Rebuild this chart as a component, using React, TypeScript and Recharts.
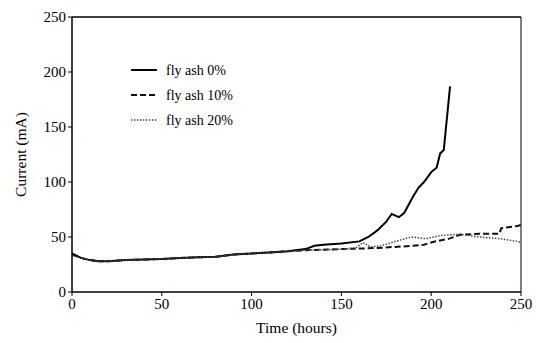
import { LineChart, Line, XAxis, YAxis, ReferenceLine } from "recharts";

// time (hours) and current (mA)
const hours0 = [0, 5, 10, 15, 20, 30, 40, 50, 60, 70, 80, 90, 100, 110, 120, 130, 135, 140, 150, 160, 165, 170, 175, 178, 182, 185, 190, 193, 196, 200, 203, 205, 207, 210.5];
const current0 = [35, 31, 29, 28, 28, 29, 29.5, 30, 31, 31.5, 32, 34, 35, 36, 37, 39, 42, 43, 44, 46, 50, 56, 64, 71, 68, 72, 87, 95, 100, 109, 113, 126, 129, 187];

const hours10 = [0, 5, 10, 15, 20, 30, 40, 50, 60, 70, 80, 90, 100, 110, 120, 130, 140, 150, 160, 170, 180, 190, 196, 201, 210, 216, 227, 238, 239, 248, 250];
const current10 = [34, 31, 29, 28, 28, 29, 29.5, 30, 31, 31.5, 32, 34, 35, 36, 37, 38, 38.5, 39, 39.5, 40, 41, 42, 43, 45.5, 48.5, 52, 53, 53, 58, 60, 61];

const hours20 = [0, 5, 10, 15, 20, 30, 40, 50, 60, 70, 80, 90, 100, 110, 120, 130, 140, 150, 158, 162, 166, 172, 180, 189, 197, 206, 216, 227, 238, 248, 250];
const current20 = [33, 31, 29, 28, 28, 29, 29.5, 30, 31, 31.5, 32, 34, 35, 36, 37, 38, 38.5, 39, 40, 45, 41, 42, 46, 50, 48.5, 51.5, 52.5, 50, 48.5, 46, 45];

const xTicks = [0, 50, 100, 150, 200, 250];
const yTicks = [0, 50, 100, 150, 200, 250];

const zip = (xs: number[], ys: number[]) => xs.map((t, i) => ({ t, v: ys[i] }));

const series = [
  { name: "fly ash 0%", data: zip(hours0, current0), dash: undefined, width: 2, color: "#000" },
  { name: "fly ash 10%", data: zip(hours10, current10), dash: "6 3", width: 2, color: "#111" },
  { name: "fly ash 20%", data: zip(hours20, current20), dash: "1.5 1.5", width: 1.5, color: "#444" },
];

const font = "'Liberation Serif', 'Times New Roman', serif";

// legend drawn as an overlay so it doesn't eat into the plot area
function LegendBox() {
  return (
    <svg width={130} height={70} style={{ position: "absolute", left: 131, top: 70, overflow: "visible" }}>
      {series.map((s, i) => (
        <g key={s.name}>
          <line x1={0} x2={26} y1={i * 25} y2={i * 25} stroke={s.color} strokeWidth={s.width} strokeDasharray={s.dash} />
          <text x={35} y={i * 25 + 5} fontFamily={font} fontSize={14} fill="#000">{s.name}</text>
        </g>
      ))}
    </svg>
  );
}

export default function App() {
  return (
    <div style={{ position: "absolute", left: 0, top: 0, width: 540, height: 343, background: "#fff" }}>
      <LineChart width={540} height={343} margin={{ top: 17, right: 19, left: 12, bottom: 6 }}>
        <XAxis
          dataKey="t"
          type="number"
          domain={[0, 250]}
          ticks={xTicks}
          allowDuplicatedCategory={false}
          height={45}
          tickSize={4}
          axisLine={{ stroke: "#000", strokeWidth: 1.5 }}
          tickLine={{ stroke: "#000" }}
          tick={{ fill: "#000", fontFamily: font, fontSize: 15 }}
          label={{ value: "Time (hours)", position: "insideBottom", offset: 4, fill: "#000", fontFamily: font, fontSize: 15.5 }}
        />
        <YAxis
          dataKey="v"
          type="number"
          domain={[0, 250]}
          ticks={yTicks}
          width={60}
          tickSize={4}
          axisLine={{ stroke: "#000", strokeWidth: 1.5 }}
          tickLine={{ stroke: "#000" }}
          tick={{ fill: "#000", fontFamily: font, fontSize: 15 }}
          label={{ value: "Current (mA)", angle: -90, position: "insideLeft", offset: 8, fill: "#000", fontFamily: font, fontSize: 15.5, style: { textAnchor: "middle" } }}
        />
        <ReferenceLine y={250} stroke="#000" strokeWidth={1.5} />
        <ReferenceLine x={250} stroke="#000" strokeWidth={1} />
        {series.map((s) => (
          <Line
            key={s.name}
            name={s.name}
            data={s.data}
            dataKey="v"
            type="linear"
            stroke={s.color}
            strokeWidth={s.width}
            strokeDasharray={s.dash}
            dot={false}
            isAnimationActive={false}
          />
        ))}
      </LineChart>
      <LegendBox />
    </div>
  );
}
